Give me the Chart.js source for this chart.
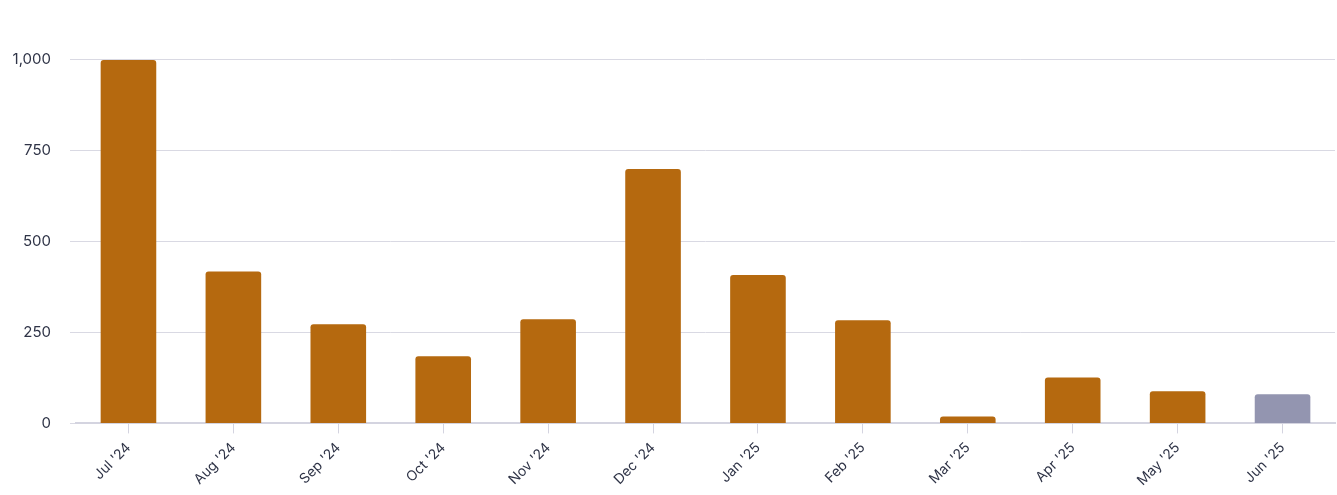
<!DOCTYPE html>
<html>
<head>
<meta charset="utf-8">
<script src="https://cdn.jsdelivr.net/npm/chart.js@4"></script>
<style>
  html, body { margin: 0; padding: 0; background: #fff; }
  #wrap { width: 1337px; height: 495px; }
</style>
</head>
<body>
<div id="wrap"><canvas id="chart"></canvas></div>
<script>
const months = ["Jul '24", "Aug '24", "Sep '24", "Oct '24", "Nov '24", "Dec '24",
  "Jan '25", "Feb '25", "Mar '25", "Apr '25", "May '25", "Jun '25"];
const values = [997, 417, 272, 184, 286, 698, 407, 283, 19, 126, 88, 80];
const yTicks = [0, 250, 500, 750, 1000];

const barColors = values.map((v, i) => i === values.length - 1 ? "#9395b0" : "#b5690f");

new Chart(document.getElementById("chart"), {
  type: "bar",
  data: {
    labels: months,
    datasets: [{
      data: values,
      backgroundColor: barColors,
      borderRadius: { topLeft: 3, topRight: 3 },
      borderSkipped: "bottom",
      barPercentage: 0.53,
      categoryPercentage: 1
    }]
  },
  options: {
    responsive: true,
    maintainAspectRatio: false,
    animation: false,
    layout: { padding: { top: 59, right: 2, left: 0, bottom: 0 } },
    plugins: { legend: { display: false }, tooltip: { enabled: false } },
    scales: {
      x: {
        grid: { offset: false, drawOnChartArea: false, drawTicks: true, tickLength: 10, color: "#d4d4e0" },
        border: { color: "#d4d4e0", width: 2 },
        ticks: {
          color: "#2f3447",
          font: { family: "Inter", size: 14 },
          maxRotation: 45, minRotation: 45,
          padding: 6
        }
      },
      y: {
        min: 0,
        max: 1000,
        afterBuildTicks: axis => { axis.ticks = yTicks.map(v => ({ value: v })); },
        afterFit: axis => { axis.width = 76; },
        grid: { color: "#d9d9e3", tickLength: 6 },
        border: { display: false },
        ticks: {
          color: "#2f3447",
          font: { family: "Inter", size: 15 },
          padding: 19,
          callback: v => v.toLocaleString("en-US")
        }
      }
    }
  }
});
</script>
</body>
</html>
